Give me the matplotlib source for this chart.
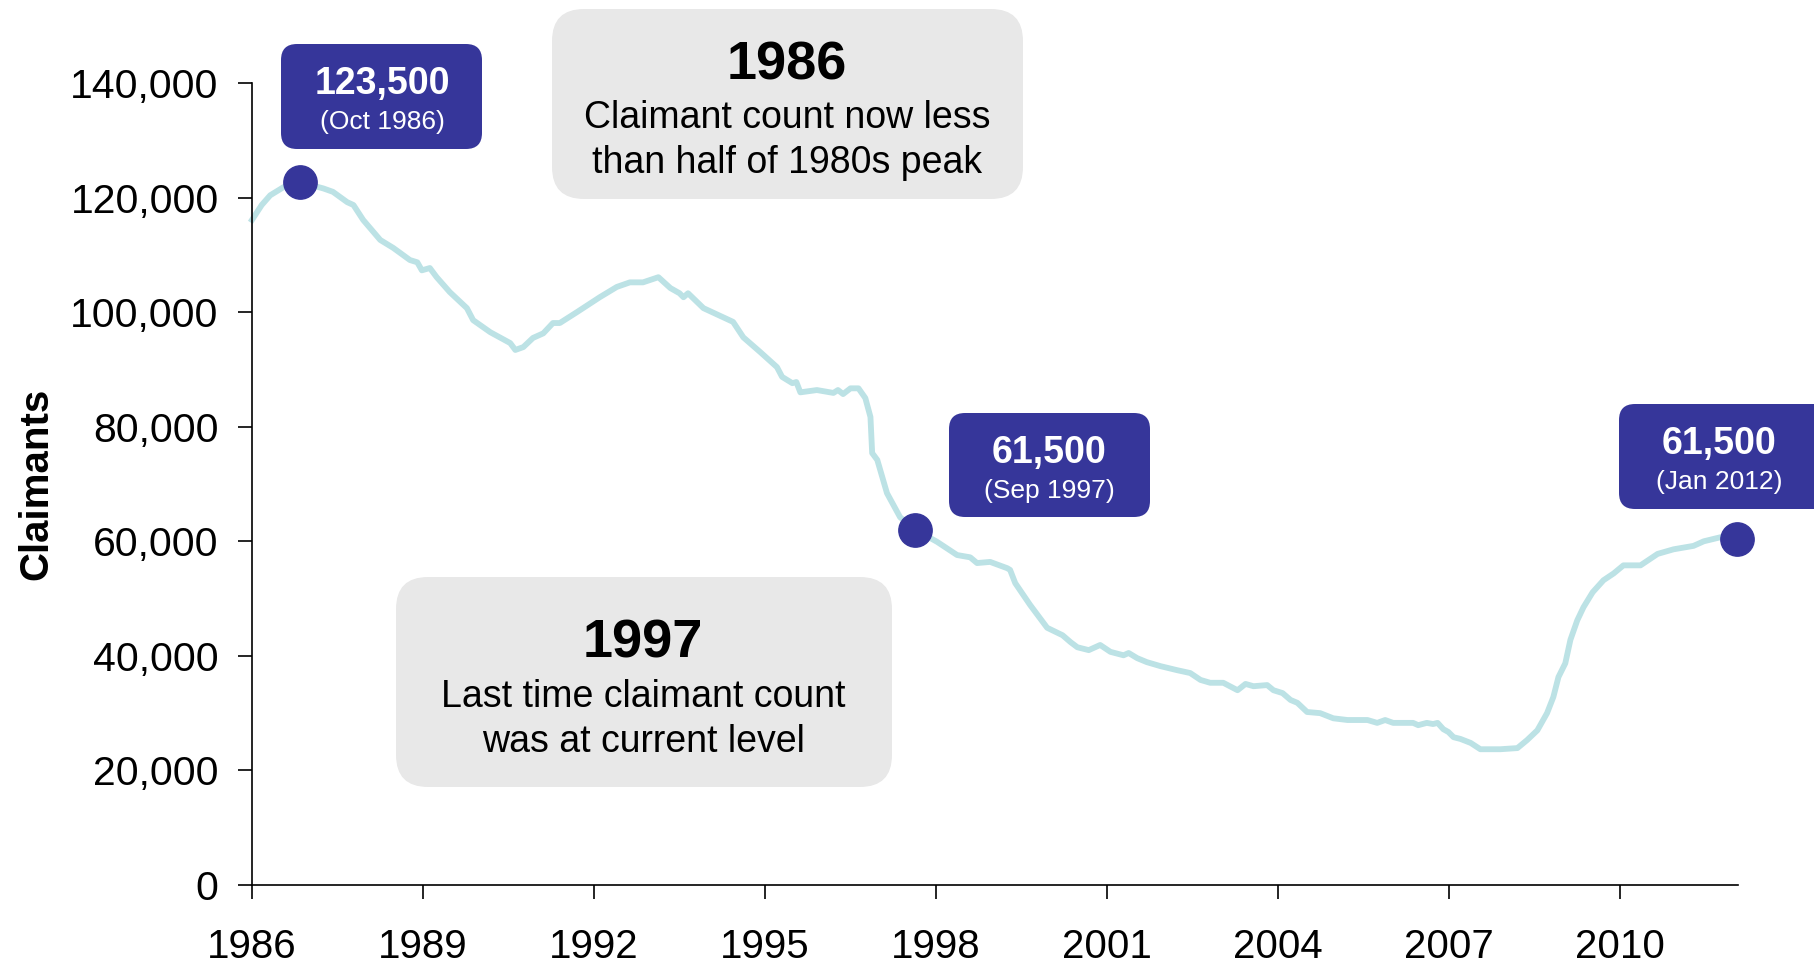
import matplotlib
matplotlib.use('Agg')
import matplotlib.pyplot as plt
from matplotlib.patches import FancyBboxPatch
from matplotlib.transforms import IdentityTransform
from matplotlib.ticker import FuncFormatter

plt.rcParams['font.family'] = ['Liberation Sans', 'DejaVu Sans']

#%% data (decimal year, claimants)
years = [1986.00, 1986.17, 1986.32, 1986.55, 1986.84, 1987.25, 1987.42, 1987.67, 1987.78, 1987.95,
         1988.25, 1988.48, 1988.77, 1988.90, 1988.98, 1989.12, 1989.24, 1989.47, 1989.77, 1989.88,
         1990.18, 1990.53, 1990.62, 1990.76, 1990.93, 1991.11, 1991.28, 1991.40, 1991.70, 1992.10,
         1992.40, 1992.63, 1992.86, 1993.13, 1993.34, 1993.50, 1993.57, 1993.65, 1993.92, 1994.16,
         1994.44, 1994.62, 1994.92, 1995.21, 1995.30, 1995.48, 1995.55, 1995.62, 1995.91, 1996.20,
         1996.28, 1996.37, 1996.50, 1996.64, 1996.76, 1996.85, 1996.88, 1996.97, 1997.14, 1997.37,
         1997.64, 1998.02, 1998.37, 1998.60, 1998.72, 1998.95, 1999.25, 1999.30, 1999.39, 1999.65,
         1999.95, 2000.22, 2000.36, 2000.48, 2000.68, 2000.88, 2001.06, 2001.29, 2001.38, 2001.53,
         2001.70, 2001.94, 2002.23, 2002.46, 2002.64, 2002.81, 2003.04, 2003.29, 2003.43, 2003.57,
         2003.81, 2003.92, 2004.08, 2004.22, 2004.34, 2004.51, 2004.74, 2004.97, 2005.22, 2005.57,
         2005.74, 2005.88, 2006.02, 2006.37, 2006.46, 2006.61, 2006.72, 2006.80, 2006.90, 2006.99,
         2007.08, 2007.20, 2007.38, 2007.55, 2007.90, 2008.20, 2008.37, 2008.55, 2008.72, 2008.83,
         2008.92, 2009.04, 2009.13, 2009.25, 2009.36, 2009.52, 2009.71, 2009.89, 2010.06, 2010.36,
         2010.66, 2010.94, 2011.29, 2011.47, 2011.76, 2012.05]
claimants = [116100, 118700, 120400, 121800, 122700, 121600, 121000, 119200, 118700, 116100,
             112600, 111200, 109100, 108700, 107300, 107700, 106100, 103500, 100700, 98600,
             96500, 94600, 93400, 93900, 95500, 96300, 98100, 98100, 100000, 102600,
             104400, 105200, 105200, 106100, 104200, 103300, 102600, 103300, 100700, 99600,
             98300, 95600, 93000, 90400, 88700, 87600, 87800, 86000, 86400, 85900,
             86400, 85700, 86700, 86700, 85000, 81700, 75400, 74200, 68400, 64200,
             62000, 59900, 57600, 57200, 56200, 56400, 55300, 55000, 52700, 48900,
             44900, 43600, 42400, 41500, 41000, 41900, 40700, 40100, 40500, 39600,
             38900, 38200, 37500, 37000, 35800, 35300, 35300, 34000, 35100, 34700,
             34900, 34000, 33500, 32300, 31800, 30200, 30000, 29100, 28800, 28800,
             28300, 28800, 28300, 28300, 27900, 28300, 28100, 28300, 27200, 26700,
             25800, 25500, 24800, 23700, 23700, 23900, 25300, 27000, 30000, 32800,
             36300, 38700, 42800, 46200, 48500, 51100, 53200, 54400, 55800, 55800,
             57800, 58600, 59200, 60000, 60700, 60400]

# highlighted months
hl_years = [1986.84, 1997.64, 2012.05]
hl_values = [122700, 62000, 60400]
hl_big = ['123,500', '61,500', '61,500']
hl_small = ['(Oct 1986)', '(Sep 1997)', '(Jan 2012)']

x_ticks = [1986, 1989, 1992, 1995, 1998, 2001, 2004, 2007, 2010]
y_ticks = [0, 20000, 40000, 60000, 80000, 100000, 120000, 140000]

W, H = 1814, 963
navy = '#36369a'
grey = '#e8e8e8'

#%% figure
fig = plt.figure(figsize=(W/100, H/100), dpi=100)
ax = fig.add_axes([252/W, 1-885/H, (1738-252)/W, (885-83)/H])

ax.plot(years, claimants, color='#bce2e5', lw=4.2, solid_joinstyle='round', clip_on=False, zorder=2)
ax.plot(hl_years, hl_values, 'o', color=navy, ms=24, clip_on=False, zorder=3)

ax.set_xlim(1986, 2012.07)
ax.set_ylim(0, 140000)
ax.set_xticks(x_ticks)
ax.set_yticks(y_ticks)
ax.yaxis.set_major_formatter(FuncFormatter(lambda v, p: '{:,.0f}'.format(v)))
for s in ['top', 'right']:
    ax.spines[s].set_visible(False)
for s in ['left', 'bottom']:
    ax.spines[s].set_linewidth(1.2)
ax.tick_params(axis='x', labelsize=29, length=10, width=1.2, pad=21)
ax.tick_params(axis='y', labelsize=29.5, length=10, width=1.2, pad=14)
ax.set_ylabel('Claimants', fontsize=29, fontweight='bold', labelpad=11)


def px_box(x0, y0, x1, y1, color, r):
    # box in pixel coords of the picture (top-left origin)
    b = FancyBboxPatch((x0, H-y1), x1-x0, y1-y0,
                       boxstyle='round,pad=0,rounding_size=%d' % r,
                       transform=IdentityTransform(), facecolor=color, edgecolor='none', zorder=5)
    fig.patches.append(b)


def px_text(x, y, s, **kw):
    fig.text(x/W, 1-y/H, s, ha='center', va='center', zorder=10, **kw)


#%% grey notes
px_box(552, 9, 1023, 199, grey, 32)
px_text(787, 66, '1986', fontsize=39, fontweight='bold')
px_text(787, 118, 'Claimant count now less', fontsize=27)
px_text(787, 163, 'than half of 1980s peak', fontsize=27)

px_box(396, 577, 892, 787, grey, 32)
px_text(643, 644, '1997', fontsize=39, fontweight='bold')
px_text(643, 697, 'Last time claimant count', fontsize=27)
px_text(643, 742, 'was at current level', fontsize=27)

#%% navy value labels
boxes = [(281, 44, 482, 149), (949, 413, 1150, 517), (1619, 404, 1830, 509)]
centres = [382, 1049, 1719]
for i in range(3):
    x0, y0, x1, y1 = boxes[i]
    px_box(x0, y0, x1, y1, navy, 16)
    px_text(centres[i], y0 + 40, hl_big[i], fontsize=27, fontweight='bold', color='white')
    px_text(centres[i], y0 + 78, hl_small[i], fontsize=19, color='white')

fig.savefig('out.png', dpi=100)
